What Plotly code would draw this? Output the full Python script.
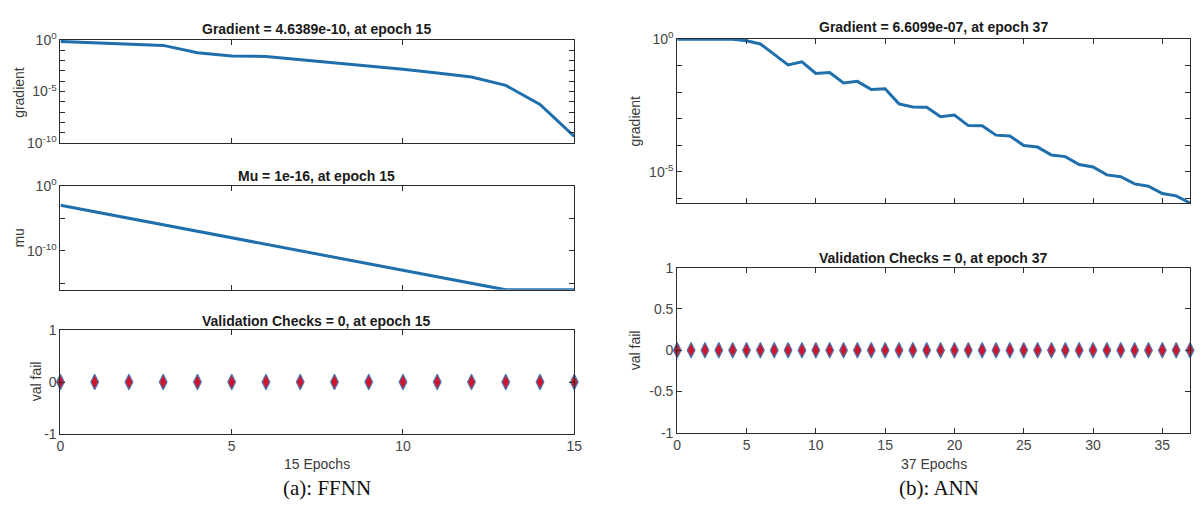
import plotly.graph_objects as go

# ---------------- data ----------------
epochs_ffnn = [0, 1, 2, 3, 4, 5, 6, 7, 8, 9, 10, 11, 12, 13, 14, 15]
gradient_ffnn = [0.708, 0.525, 0.398, 0.295, 0.0562, 0.0275, 0.0251, 0.0126,
                 0.00631, 0.00316, 0.00141, 0.000631, 0.000251, 3.98e-5,
                 5.62e-7, 4.6389e-10]
mu_ffnn = [1e-3, 1e-4, 1e-5, 1e-6, 1e-7, 1e-8, 1e-9, 1e-10, 1e-11, 1e-12,
           1e-13, 1e-14, 1e-15, 1e-16, 1e-16, 1e-16]
valfail_ffnn = [0, 0, 0, 0, 0, 0, 0, 0, 0, 0, 0, 0, 0, 0, 0, 0]

epochs_ann = [0, 1, 2, 3, 4, 5, 6, 7, 8, 9, 10, 11, 12, 13, 14, 15, 16, 17, 18,
              19, 20, 21, 22, 23, 24, 25, 26, 27, 28, 29, 30, 31, 32, 33, 34,
              35, 36, 37]
gradient_ann = [1.0, 1.0, 1.0, 1.0, 1.0, 0.871, 0.661, 0.269, 0.107, 0.141,
                0.0513, 0.0550, 0.0224, 0.0257, 0.0126, 0.0135, 0.00363,
                0.00275, 0.00272, 0.00120, 0.00138, 0.000550, 0.000540,
                0.000240, 0.000224, 9.77e-5, 8.51e-5, 4.27e-5, 3.72e-5,
                1.86e-5, 1.51e-5, 7.59e-6, 6.46e-6, 3.47e-6, 2.82e-6,
                1.51e-6, 1.23e-6, 6.6099e-7]
valfail_ann = [0, 0, 0, 0, 0, 0, 0, 0, 0, 0, 0, 0, 0, 0, 0, 0, 0, 0, 0, 0, 0,
               0, 0, 0, 0, 0, 0, 0, 0, 0, 0, 0, 0, 0, 0, 0, 0, 0]

titles = ["Gradient = 4.6389e-10, at epoch 15", "Mu = 1e-16, at epoch 15",
          "Validation Checks = 0, at epoch 15",
          "Gradient = 6.6099e-07, at epoch 37",
          "Validation Checks = 0, at epoch 37"]
ylabels = ["gradient", "mu", "val fail", "gradient", "val fail"]
xlabels = ["15 Epochs", "37 Epochs"]
captions = ["(a): FFNN", "(b): ANN"]

# ---------------- styling ----------------
W, H = 1203, 514
LINE = "#1f6fad"
AX = "#2b2b2b"
TICKC = "#444444"
FONT = "Liberation Sans, Arial, sans-serif"


def px_y(p):
    return 1 - p / H


def px_x(p):
    return p / W


LX = [px_x(57), px_x(576)]
RX = [px_x(680), px_x(1198)]
dom = {
    1: (LX, [px_y(138), px_y(31)]),
    2: (LX, [px_y(290), px_y(182)]),
    3: (LX, [px_y(439), px_y(332)]),
    4: (RX, [px_y(200), px_y(30)]),
    5: (RX, [px_y(438), px_y(267)]),
}

fig = go.Figure()

line_style = dict(color=LINE, width=3)
marker_style = dict(symbol="diamond-tall", size=11, color="#d0142c",
                    line=dict(color="#4a78b0", width=1.2))

fig.add_trace(go.Scatter(x=epochs_ffnn, y=gradient_ffnn, mode="lines",
                         line=line_style, xaxis="x", yaxis="y"))
fig.add_trace(go.Scatter(x=epochs_ffnn, y=mu_ffnn, mode="lines",
                         line=line_style, xaxis="x2", yaxis="y2"))
fig.add_trace(go.Scatter(x=epochs_ffnn, y=valfail_ffnn, mode="markers",
                         marker=marker_style, cliponaxis=False,
                         xaxis="x3", yaxis="y3"))
fig.add_trace(go.Scatter(x=epochs_ann, y=gradient_ann, mode="lines",
                         line=line_style, xaxis="x4", yaxis="y4"))
fig.add_trace(go.Scatter(x=epochs_ann, y=valfail_ann, mode="markers",
                         marker=marker_style, cliponaxis=False,
                         xaxis="x5", yaxis="y5"))


def sup(e):
    return "10<sup>%d</sup>" % e


common = dict(showline=True, linecolor=AX, linewidth=1, mirror="allticks",
              ticks="inside", ticklen=5, tickcolor=AX, showgrid=False,
              zeroline=False, tickfont=dict(family=FONT, size=14, color=TICKC),
              fixedrange=True)

layout = {}
# x axes
left_ticks = [0, 5, 10, 15]
right_ticks = [0, 5, 10, 15, 20, 25, 30, 35]
for i in range(1, 6):
    xd, yd = dom[i]
    key = "xaxis" if i == 1 else "xaxis%d" % i
    if i <= 3:
        tv = left_ticks
        rng = [0, 15]
        tt = [str(v) for v in tv] if i == 3 else ["" for _ in tv]
    else:
        tv = right_ticks
        rng = [0, 37]
        tt = [str(v) for v in tv] if i == 5 else ["" for _ in tv]
    layout[key] = dict(common, domain=xd, range=rng, tickvals=tv, ticktext=tt,
                       anchor="y" if i == 1 else "y%d" % i)

# y axes
y1_vals = [10.0 ** (-k) for k in range(0, 11)]
y1_text = [sup(0) if k == 0 else sup(-5) if k == 5 else sup(-10) if k == 10 else ""
           for k in range(0, 11)]
y2_vals = [1, 1e-5, 1e-10, 1e-15]
y2_text = [sup(0), "", sup(-10), ""]
y4_vals = [10.0 ** (-k) for k in range(0, 7)]
y4_text = [sup(0) if k == 0 else sup(-5) if k == 5 else "" for k in range(0, 7)]

layout["yaxis"] = dict(common, domain=dom[1][1], type="log", range=[-10, 0],
                       tickvals=y1_vals, ticktext=y1_text, anchor="x")
layout["yaxis2"] = dict(common, domain=dom[2][1], type="log", range=[-16, 0],
                        tickvals=y2_vals, ticktext=y2_text, anchor="x2")
layout["yaxis3"] = dict(common, domain=dom[3][1], range=[-1, 1],
                        tickvals=[-1, 0, 1], ticktext=["-1", "0", "1"],
                        anchor="x3")
layout["yaxis4"] = dict(common, domain=dom[4][1], type="log",
                        range=[-6.18, 0.01], tickvals=y4_vals,
                        ticktext=y4_text, anchor="x4")
layout["yaxis5"] = dict(common, domain=dom[5][1], range=[-1, 1],
                        tickvals=[-1, -0.5, 0, 0.5, 1],
                        ticktext=["-1", "-0.5", "0", "0.5", "1"], anchor="x5")

annotations = []
# titles
title_pos = [(316, 20), (316, 172), (316, 322), (939, 18), (939, 257)]
for t, (xp, yp) in zip(titles, title_pos):
    annotations.append(dict(text="<b>%s</b>" % t, x=px_x(xp), y=px_y(yp),
                            xref="paper", yref="paper", showarrow=False,
                            xanchor="center", yanchor="middle",
                            font=dict(family=FONT, size=14, color="#1a1a1a")))
# y labels
ylab_pos = [(15, 85), (15, 236), (32, 385), (637, 115), (637, 353)]
for t, (xp, yp) in zip(ylabels, ylab_pos):
    annotations.append(dict(text=t, x=px_x(xp), y=px_y(yp), xref="paper",
                            yref="paper", showarrow=False, textangle=-90,
                            xanchor="center", yanchor="middle",
                            font=dict(family=FONT, size=14, color="#3a3a3a")))
# x labels
for t, xp in zip(xlabels, [316, 939]):
    annotations.append(dict(text=t, x=px_x(xp), y=px_y(470), xref="paper",
                            yref="paper", showarrow=False, xanchor="center",
                            yanchor="middle",
                            font=dict(family=FONT, size=14, color="#3a3a3a")))
# captions
for t, xp in zip(captions, [326, 944]):
    annotations.append(dict(text=t, x=px_x(xp), y=px_y(495), xref="paper",
                            yref="paper", showarrow=False, xanchor="center",
                            yanchor="middle",
                            font=dict(family="Liberation Serif, Times New Roman, serif",
                                      size=21, color="#111111")))

fig.update_layout(width=W, height=H, margin=dict(l=0, r=0, t=0, b=0),
                  paper_bgcolor="white", plot_bgcolor="white",
                  showlegend=False, annotations=annotations, **layout)

fig.write_html("out.html", config={"displayModeBar": False},
               post_script="document.body.style.margin='0px';document.body.style.overflow='hidden';")
